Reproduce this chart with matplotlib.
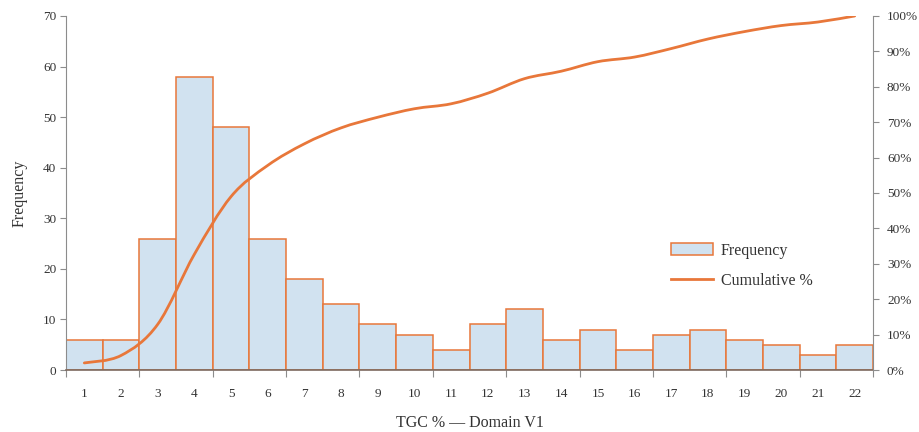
import numpy as np
import matplotlib
matplotlib.use('Agg')
import matplotlib.pyplot as plt
from matplotlib.path import Path
from matplotlib.patches import PathPatch, Patch
from matplotlib.lines import Line2D

categories = list(range(1, 23))
frequency = [6, 6, 26, 58, 48, 26, 18, 13, 9, 7, 4, 9, 12, 6, 8, 4, 7, 8, 6, 5, 3, 5]
cumulative_pct = [2.0, 4.1, 12.9, 32.7, 49.0, 57.8, 63.9, 68.4, 71.4, 73.8, 75.2,
                  78.2, 82.3, 84.4, 87.1, 88.4, 90.8, 93.5, 95.6, 97.3, 98.3, 100.0]

bar_face = '#d1e2f0'
orange = '#e8773a'
axis_grey = '#8c8c8c'
text_col = '#333333'

plt.rcParams['font.family'] = ['Liberation Serif', 'DejaVu Serif']


def smooth_path(xs, ys):
    # catmull-rom style bezier through the data points
    pts = np.column_stack([xs, ys]).astype(float)
    verts = [pts[0]]
    codes = [Path.MOVETO]
    n = len(pts)
    for i in range(n - 1):
        p0 = pts[max(i - 1, 0)]
        p1 = pts[i]
        p2 = pts[i + 1]
        p3 = pts[min(i + 2, n - 1)]
        c1 = p1 + (p2 - p0) / 6.0
        c2 = p2 - (p3 - p1) / 6.0
        verts += [c1, c2, p2]
        codes += [Path.CURVE4] * 3
    return Path(verts, codes)


fig = plt.figure(figsize=(9.19, 4.32), dpi=100)
ax = fig.add_axes([0.0718, 0.1435, 0.8782, 0.8195])

ax.bar(categories, frequency, width=1.0, color=bar_face, edgecolor=orange,
       linewidth=1.1, zorder=2)
ax.set_xlim(0.5, 22.5)
ax.set_ylim(0, 70)
ax.set_yticks(range(0, 71, 10))

ax.set_xticks(np.arange(0.5, 23, 2))
ax.set_xticklabels([])
ax.set_xticks(categories, minor=True)
ax.set_xticklabels([str(c) for c in categories], minor=True)
ax.tick_params(axis='x', which='minor', length=0, pad=13, labelsize=9.5, labelcolor=text_col)
ax.tick_params(axis='x', which='major', length=5, color=axis_grey)
ax.tick_params(axis='y', length=4, color=axis_grey, labelsize=9.5, labelcolor=text_col, pad=3)

for s in ['top', 'right']:
    ax.spines[s].set_visible(False)
ax.spines['left'].set_color(axis_grey)
ax.spines['bottom'].set_color('#7d6a60')
ax.spines['bottom'].set_linewidth(1.2)
ax.spines['bottom'].set_zorder(3)

ax.set_ylabel('Frequency', fontsize=11.5, color=text_col, labelpad=11)
ax.set_xlabel('TGC % \u2014 Domain V1', fontsize=11.5, color=text_col, labelpad=11)

ax2 = ax.twinx()
ax2.set_ylim(0, 100)
ax2.set_yticks(range(0, 101, 10))
ax2.set_yticklabels([f'{v}%' for v in range(0, 101, 10)])
ax2.tick_params(axis='y', length=4, color=axis_grey, labelsize=9.5, labelcolor=text_col, pad=6)
for s in ['top', 'left', 'bottom']:
    ax2.spines[s].set_visible(False)
ax2.spines['right'].set_color(axis_grey)

line_path = smooth_path(categories, cumulative_pct)
ax2.add_patch(PathPatch(line_path, facecolor='none', edgecolor=orange,
                        linewidth=2.0, capstyle='round', zorder=4))

handles = [Patch(facecolor=bar_face, edgecolor=orange, linewidth=1.1),
           Line2D([], [], color=orange, linewidth=2.0)]
ax2.legend(handles, ['Frequency', 'Cumulative %'], loc='upper left',
           bbox_to_anchor=(0.732, 0.40), frameon=False, fontsize=11.5,
           handlelength=2.6, handleheight=0.8, labelspacing=0.9, handletextpad=0.5,
           labelcolor=text_col)

fig.savefig('out.png', dpi=100)
